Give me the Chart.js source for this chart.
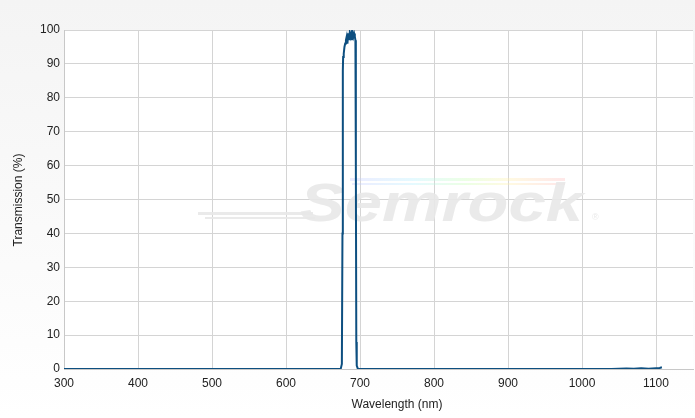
<!DOCTYPE html>
<html>
<head>
<meta charset="utf-8">
<script src="https://cdn.jsdelivr.net/npm/chart.js@4/dist/chart.umd.min.js"></script>
<style>
  html, body { margin: 0; padding: 0; }
  body { width: 695px; height: 418px; background: linear-gradient(to bottom, #f4f4f4, #ffffff); }
  canvas { display: block; }
</style>
</head>
<body>
<canvas id="spectrumChart" width="695" height="418"></canvas>
<script>
// wavelength (nm) and transmission (%)
const wavelength = [300, 400, 500, 600, 650, 670, 674, 675.5, 676.3, 676.8, 677.2, 678, 679, 680, 681, 682, 683, 684,
  685, 686, 687, 688, 689, 690, 691, 692, 693, 693.8, 694.4, 695, 695.6, 697, 720, 800, 900, 1000, 1040, 1060, 1070,
  1080, 1090, 1100, 1105, 1108];
const transmission = [0, 0, 0, 0, 0, 0, 0.1, 1.5, 40, 88, 92, 93, 95, 96, 97, 98, 96, 99,
  97, 99, 98, 99, 97, 99, 98, 99, 98, 97, 60, 8, 1, 0.1, 0, 0, 0, 0, 0, 0.15, 0.05,
  0.2, 0.1, 0.25, 0.3, 0.5];
const xTicks = [300, 400, 500, 600, 700, 800, 900, 1000, 1100];
const yTicks = [0, 10, 20, 30, 40, 50, 60, 70, 80, 90, 100];

const FONT = 'Liberation Sans, Arial, sans-serif';

const decor = {
  id: 'decor',
  beforeDraw(chart) {
    const { ctx, chartArea: a } = chart;
    ctx.save();
    ctx.fillStyle = '#ffffff';
    ctx.fillRect(a.left, a.top, a.right - a.left, a.bottom - a.top);
    ctx.restore();
  },
  beforeDatasetsDraw(chart) {
    const { ctx } = chart;
    ctx.save();
    // watermark
    const g = ctx.createLinearGradient(350, 0, 560, 0);
    g.addColorStop(0, 'rgba(200,200,255,0.35)');
    g.addColorStop(0.3, 'rgba(180,240,255,0.35)');
    g.addColorStop(0.55, 'rgba(200,255,180,0.35)');
    g.addColorStop(0.75, 'rgba(255,240,170,0.35)');
    g.addColorStop(1, 'rgba(255,190,190,0.35)');
    ctx.fillStyle = g;
    ctx.fillRect(350, 178, 215, 3);
    ctx.fillRect(352, 183, 213, 2);
    ctx.fillStyle = 'rgba(232,232,232,0.9)';
    ctx.fillRect(198, 212, 115, 3);
    ctx.fillRect(205, 217, 110, 2);
    ctx.save();
    ctx.translate(300, 221);
    ctx.scale(1.24, 1);
    ctx.font = 'italic bold 54px ' + FONT;
    ctx.textBaseline = 'alphabetic';
    ctx.fillText('Semrock', 0, 0);
    ctx.restore();
    ctx.font = '9px ' + FONT;
    ctx.fillText('®', 592, 220);
    ctx.restore();
  },
  afterDraw(chart) {
    const { ctx } = chart;
    ctx.save();
    ctx.fillStyle = '#222';
    ctx.font = '12px ' + FONT;
    ctx.textAlign = 'center';
    ctx.textBaseline = 'middle';
    ctx.fillText('Wavelength (nm)', 397, 405);
    ctx.translate(19, 200);
    ctx.rotate(-Math.PI / 2);
    ctx.fillText('Transmission (%)', 0, 0);
    ctx.restore();
  }
};

new Chart(document.getElementById('spectrumChart').getContext('2d'), {
  type: 'line',
  data: {
    datasets: [{
      data: wavelength.map((w, i) => ({ x: w, y: transmission[i] })),
      borderColor: '#0d4f80',
      borderWidth: 2,
      pointRadius: 0,
      tension: 0,
      fill: false
    }]
  },
  options: {
    responsive: false,
    animation: false,
    layout: { padding: { top: 30, right: 2, left: 0, bottom: 0 } },
    plugins: { legend: { display: false }, tooltip: { enabled: false } },
    scales: {
      x: {
        type: 'linear',
        min: 300,
        max: 1150,
        afterBuildTicks(s) { s.ticks = xTicks.map(v => ({ value: v })); },
        afterFit(s) { s.height = 49; },
        grid: { color: '#d4d4d4', drawTicks: false },
        border: { color: '#c8c8c8' },
        ticks: { color: '#222', font: { family: FONT, size: 12 }, padding: 7, maxRotation: 0,
          callback: v => String(v) }
      },
      y: {
        min: 0,
        max: 100,
        afterBuildTicks(s) { s.ticks = yTicks.map(v => ({ value: v })); },
        afterFit(s) { s.width = 64; },
        grid: { color: '#d4d4d4', drawTicks: false },
        border: { color: '#c8c8c8' },
        ticks: { color: '#222', font: { family: FONT, size: 12 }, padding: 4 }
      }
    }
  },
  plugins: [decor]
});
</script>
</body>
</html>
